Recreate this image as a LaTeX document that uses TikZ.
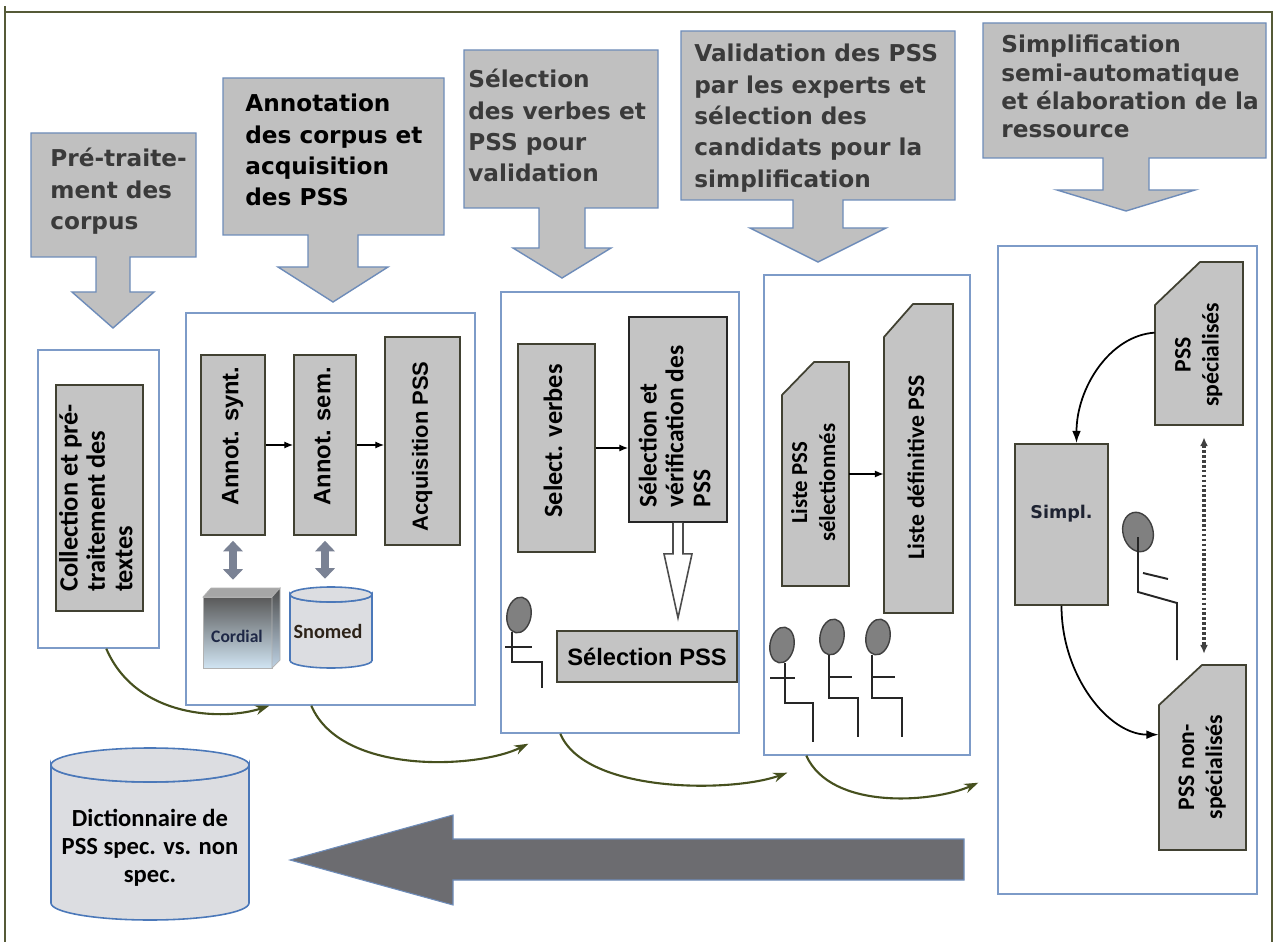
\documentclass[tikz,border=0pt]{standalone}
\usepackage{fontspec}
\usepackage{graphicx}
\usetikzlibrary{calc,arrows.meta}
\newfontfamily\dejavu{DejaVu Sans}
\newfontfamily\carlito{Carlito}
\newfontfamily\liber{Liberation Sans}
\definecolor{hdrfill}{RGB}{192,192,192}
\definecolor{hdrline}{RGB}{110,140,185}
\definecolor{stageline}{RGB}{125,155,200}
\definecolor{boxfill}{RGB}{196,196,196}
\definecolor{boxline}{RGB}{65,65,50}
\definecolor{textgray}{RGB}{58,58,58}
\definecolor{olivearrow}{RGB}{70,80,30}
\definecolor{frameline}{RGB}{85,90,55}
\definecolor{drumline}{RGB}{75,120,185}
\definecolor{drumfill}{RGB}{220,221,225}
\definecolor{dblgray}{RGB}{122,130,148}
\definecolor{bigfill}{RGB}{108,108,112}
\newcommand{\pxl}{0.02cm}
% rotated text; #2 moves the text up (positive) or down (negative) by half its value
\newcommand{\vtext}[3][c]{\rotatebox{90}{\kern#2\begin{tabular}{@{}#1@{}}#3\end{tabular}}}
\newcommand{\htext}[2][l]{\begin{tabular}[t]{@{}#1@{}}#2\end{tabular}}
\def\hdrarrow(#1,#2)(#3,#4)[#5:#6:#7:#8:#9]{\draw[hdrbox] (#1,#2) -- (#3,#2) -- (#3,#4) -- ({#5+#6},#4) -- ({#5+#6},#8) -- ({#5+#7},#8) -- (#5,#9) -- ({#5-#7},#8) -- ({#5-#6},#8) -- ({#5-#6},#4) -- (#1,#4) -- cycle;}
\def\drum(#1,#2)(#3:#4:#5){\filldraw[drumface] (#1,#3) -- (#1,#4) arc[start angle=180, end angle=0, x radius={(#2-#1)/2}, y radius=#5] -- (#2,#3) arc[start angle=0, end angle=180, x radius={(#2-#1)/2}, y radius=#5] -- cycle;
	\draw[drumface] ({(#1+#2)/2},#3) ellipse [x radius={(#2-#1)/2}, y radius=#5];}
\tikzset{
	hdrbox/.style={fill=hdrfill, draw=hdrline, line width=0.8pt},
	hdrtext/.style={anchor=base west, inner sep=0pt, text=textgray, font=\dejavu\bfseries\fontsize{13.2}{17.8}\selectfont},
	stagebox/.style={draw=stageline, fill=white, line width=0.8pt, inner sep=0pt},
	graybox/.style={draw=boxline, fill=boxfill, line width=1pt, inner sep=0pt},
	plainbox/.style={inner sep=0pt},
	boxsize/.style 2 args={minimum width=#1*\pxl, minimum height=#2*\pxl},
	linkarrow/.style={-{Latex[length=5pt,width=4pt]}, line width=0.7pt},
	curvearrow/.style={-{Latex[length=7pt,width=5pt]}, line width=1pt},
	flowarrow/.style={-{Stealth[length=8pt,width=5.5pt]}, draw=olivearrow, line width=1.2pt},
	dblarrow/.style={{Triangle[length=6pt,width=11pt]}-{Triangle[length=6pt,width=11pt]}, draw=dblgray, line width=4.5pt},
	dotarrow/.style={{Latex[length=5pt,width=4.5pt]}-{Latex[length=5pt,width=4.5pt]}, draw=black!75, line width=2pt, dash pattern=on 1.5pt off 1.3pt},
	hollowarrow/.style={draw=black!70, fill=white, line width=0.9pt},
	headshape/.style={fill=black!50, draw=black!75, line width=0.8pt},
	limbline/.style={draw=black!85, line width=1.1pt},
	drumface/.style={fill=drumfill, draw=drumline, line width=0.9pt},
	framelines/.style={draw=frameline, line width=1.2pt},
	carl/.style={font=\carlito\bfseries\fontsize{#1}{16}\selectfont},
	arial/.style={font=\liber\bfseries\fontsize{#1}{15}\selectfont}
}

\begin{document}
\begin{tikzpicture}[x=0.02cm, y=-0.02cm]
		%%%%% PAGE %%%%%
		\useasboundingbox (0,0) rectangle (1274,942);
		\fill[white] (0,0) rectangle (1274,942);
		\draw[framelines] (5,942) -- (5,6) (5,12) -- (1272,12) -- (1272,942);
		
		%%%%% STEP ARROWS %%%%%
		\hdrarrow(31,133)(196,257)[113:17:41:292:328]
		\hdrarrow(223,78)(444,235)[333:25:55:267:302]
		\hdrarrow(464,50)(658,208)[562:23:49:248:278]
		\hdrarrow(681,31)(955,200)[818:25:68:228:262]
		\hdrarrow(983,23)(1266,158)[1126:23:69:190:211]
		
		\node[hdrtext] (h1) at (50,167) {\htext{Pré-traite-\\ment des\\corpus}};
		\node[hdrtext, text=black] (h2) at (245,112) {\htext{Annotation\\des corpus et\\acquisition\\des PSS}};
		\node[hdrtext] (h3) at (468,88) {\htext{Sélection\\des verbes et\\PSS pour\\validation}};
		\node[hdrtext] (h4) at (694,62) {\htext{Validation des PSS\\par les experts et\\sélection des\\candidats pour la\\simplification}};
		\node[hdrtext, font=\dejavu\bfseries\fontsize{13.2}{16}\selectfont] (h5) at (1001,53) {\htext{Simplification\\semi-automatique\\et élaboration de la\\ressource}};
		
		%%%%% STAGES %%%%%
		\node[stagebox, boxsize={121}{298}] (st1) at (98.5,499) {};
		\node[stagebox, boxsize={289}{392}] (st2) at (330.5,509) {};
		\node[stagebox, boxsize={238}{441}] (st3) at (620,512.5) {};
		\node[stagebox, boxsize={206}{480}] (st4) at (867,515) {};
		\node[stagebox, boxsize={259}{648}] (st5) at (1127.5,570) {};
		
		% stage 1
		\node[graybox, boxsize={87}{226}, font=\carlito\bfseries\fontsize{15}{15.6}\selectfont] (coll) at (99.5,498) {\vtext[l]{0pt}{Collection et pré-\\traitement des\\textes}};
		
		% stage 2
		\node[graybox, boxsize={64}{180}, arial=13.5] (synt) at (233,445) {\vtext{10pt}{Annot. synt.}};
		\node[graybox, boxsize={62}{180}, arial=13.5] (sem) at (325,445) {\vtext{10pt}{Annot. sem.}};
		\node[graybox, boxsize={75}{208}, arial=12.5] (acq) at (422.5,441) {\vtext{-6pt}{Acquisition PSS}};
		\draw[linkarrow] (synt.east) -- (sem.west);
		\draw[linkarrow] (sem.east) -- (sem.east -| acq.west);
		
		\node[plainbox, boxsize={77}{80}] (cordial) at (241.5,628) {};
		\shade[top color=black!65, bottom color={rgb,255:red,208;green,228;blue,242}, draw=black!30] (203,597) rectangle (272,668);
		\fill[black!35, draw=black!30] (203,597) -- (211,588) -- (280,588) -- (272,597) -- cycle;
		\shade[top color=black!70, bottom color={rgb,255:red,190;green,210;blue,228}, draw=black!30] (272,597) -- (280,588) -- (280,660) -- (272,668) -- cycle;
		\node[carl=10, text={rgb,255:red,30;green,40;blue,70}] (cordtxt) at (237,636) {Cordial};
		
		\node[plainbox, boxsize={82}{81}] (snomed) at (331,627.5) {};
		\drum(290,372)(594.5:660.5:7.5)
		\node[carl=11.5, text={rgb,255:red,45;green,35;blue,25}] (snotxt) at (328,631) {Snomed};
		
		\draw[dblarrow, shorten <=2.8pt, shorten >=4.5pt] (synt.south) -- (synt.south |- cordial.north);
		\draw[dblarrow, shorten <=2.8pt, shorten >=4.5pt] (sem.south) -- (sem.south |- snomed.north);
		
		% stage 3
		\node[graybox, boxsize={77}{208}, carl=15] (verbes) at (556.5,448) {\vtext{8pt}{Select. verbes}};
		\node[graybox, draw=black!85, boxsize={98}{205}, font=\carlito\bfseries\fontsize{14.5}{15.3}\selectfont] (verif) at (678,419.5) {\vtext[l]{-8pt}{Sélection et\\vérification des\\PSS}};
		\node[graybox, boxsize={180}{51}, arial=13.5] (selpss) at (647,656.5) {Sélection PSS};
		\draw[linkarrow] (verbes.east) -- (verbes.east -| verif.west);
		\draw[hollowarrow] ($(verif.south)+(-5,0)$) -- ($(verif.south)+(-5,31)$) -- ($(verif.south)+(-14,31)$) -- ($(verif.south)+(0,95)$) -- ($(verif.south)+(14,31)$) -- ($(verif.south)+(5,31)$) -- ($(verif.south)+(5,0)$);
		
		\draw[headshape, rotate around={-10:(519,615)}] (519,615) ellipse [x radius=12, y radius=18];
		\draw[limbline] (512,632) -- (512,662) -- (542,662) -- (542,688);
		\draw[limbline] (505,647) -- (532,647);
		
		% stage 4
		\draw[graybox] (782,586) -- (849,586) -- (849,362) -- (814,362) -- (782,395) -- cycle;
		\node[plainbox, boxsize={67}{224}, font=\carlito\bfseries\fontsize{13}{16}\selectfont] (lsel) at (815.5,474) {\vtext{-10pt}{Liste PSS\\sélectionnés}};
		\draw[graybox] (884,613) -- (953,613) -- (953,304) -- (913,304) -- (884,337) -- cycle;
		\node[plainbox, boxsize={69}{309}, carl=13.5] (ldef) at (918.5,458.5) {\vtext{-10pt}{Liste définitive PSS}};
		\draw[linkarrow] (lsel.east) -- (lsel.east -| ldef.west);
		
		\draw[headshape, rotate around={-10:(782,645)}] (782,645) ellipse [x radius=12, y radius=18];
		\draw[limbline] (785,663) -- (785,703) -- (813,703) -- (813,742);
		\draw[limbline] (770,678) -- (795,678);
		\draw[headshape, rotate around={-10:(832,637)}] (832,637) ellipse [x radius=12, y radius=18];
		\draw[limbline] (829,655) -- (829,698) -- (858,698) -- (858,737);
		\draw[limbline] (829,677) -- (852,677);
		\draw[headshape, rotate around={-10:(878,637)}] (878,637) ellipse [x radius=12, y radius=18];
		\draw[limbline] (872,655) -- (872,698) -- (902,698) -- (902,737);
		\draw[limbline] (872,677) -- (895,677);
		
		% stage 5
		\draw[graybox] (1155,425) -- (1243,425) -- (1243,262) -- (1200,262) -- (1155,305) -- cycle;
		\node[plainbox, boxsize={88}{163}, carl=13.5] (spec) at (1199,343.5) {\vtext{-13pt}{PSS\\spécialisés}};
		\node[graybox, boxsize={93}{161}, font=\dejavu\bfseries\fontsize{10}{12}\selectfont, text={rgb,255:red,30;green,35;blue,50}] (simpl) at (1061.5,524.5) {Simpl.\rule[-14pt]{0pt}{0pt}};
		\draw[graybox] (1159,850) -- (1246,850) -- (1246,665) -- (1202,665) -- (1159,705) -- cycle;
		\node[plainbox, boxsize={87}{185}, carl=13.5] (nonspec) at (1202.5,757.5) {\vtext{-11pt}{PSS non-\\spécialisés}};
		
		\draw[curvearrow] ($(spec.north west)+(0,71)$) .. controls +(-45,3) and +(0,-55) .. ([xshift=15*\pxl]simpl.north);
		\draw[curvearrow] (simpl.south) .. controls +(0,70) and +(-50,0) .. ($(nonspec.north west)+(0,70)$);
		\coordinate (dtop) at ([xshift=5*\pxl]spec.south);
		\coordinate (dbot) at (dtop |- nonspec.north);
		\draw[dotarrow, shorten <=6.8pt, shorten >=6.2pt] (dtop) -- (dbot);
		
		\draw[headshape, rotate around={15:(1138,532)}] (1138,532) ellipse [x radius=15, y radius=20];
		\draw[limbline] (1138,537) -- (1138,592) -- (1177,603) -- (1177,660);
		\draw[limbline] (1143,573) -- (1168,579);
		
		%%%%% FLOW BETWEEN STAGES %%%%%
		\coordinate (fromA) at ($(st1.south west)+(69,0)$);
		\coordinate (toA) at ($(st2.south west)+(84,0)$);
		\coordinate (fromB) at ($(st2.south west)+(126,0)$);
		\coordinate (toB) at ($(st3.south west)+(28,10)$);
		\coordinate (fromC) at ($(st3.south west)+(60,0)$);
		\coordinate (toC) at ($(st4.south west)+(24,17)$);
		\coordinate (fromD) at ($(st4.south west)+(43,0)$);
		\coordinate (toD) at ($(st5.south west)+(-19,-112)$);
		\draw[flowarrow] (fromA) .. controls +(30,70) and +(-45,15) .. (toA);
		\draw[flowarrow] (fromB) .. controls +(30,70) and +(-50,25) .. (toB);
		\draw[flowarrow] (fromC) .. controls +(25,60) and +(-55,20) .. (toC);
		\draw[flowarrow] (fromD) .. controls +(25,55) and +(-45,20) .. (toD);
		
		%%%%% RESOURCE %%%%%
		\drum(51,249)(765:903:17)
		\node[font=\carlito\bfseries\fontsize{14}{16}\selectfont, align=center] (dict) at (150,848) {Dictionnaire de\\PSS spec. vs. non\\spec.};
		\draw[fill=bigfill, draw=hdrline, line width=0.6pt] (964,839) -- (453,839) -- (453,815) -- (290,860) -- (453,905) -- (453,880) -- (964,880) -- cycle;
		
		%%%%% END %%%%%
\end{tikzpicture}
\end{document}
